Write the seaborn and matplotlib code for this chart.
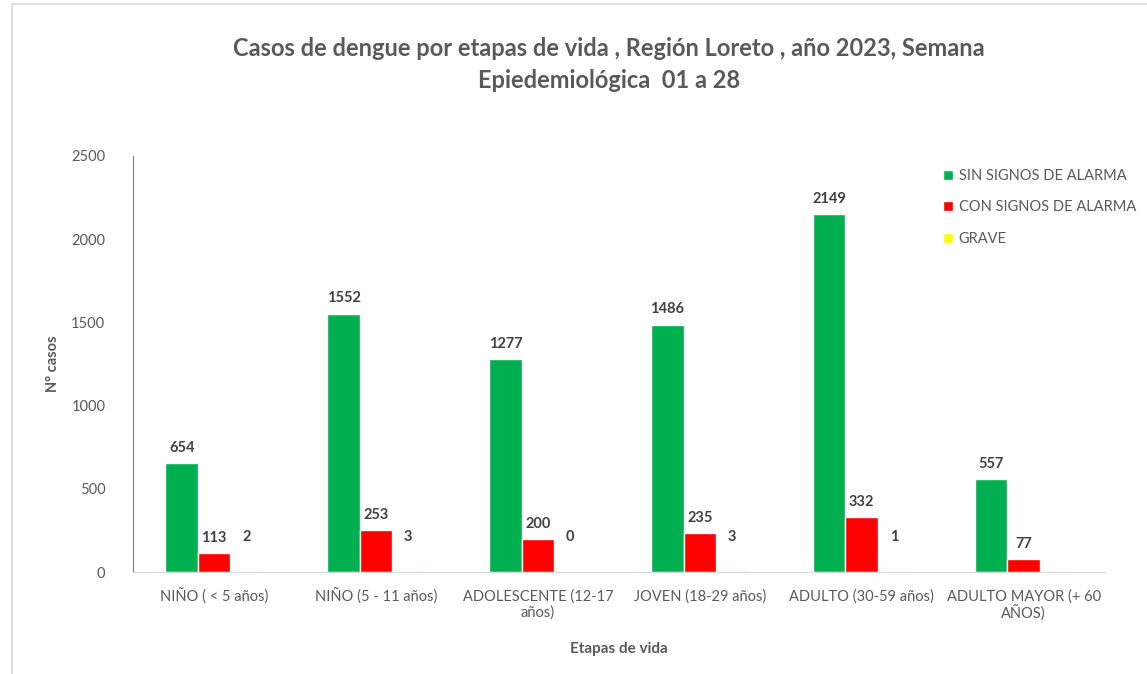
import pandas as pd
import seaborn as sns
import matplotlib.pyplot as plt
from matplotlib.patches import Rectangle

# data
etapas = ["NIÑO ( < 5 años)", "NIÑO (5 - 11 años)", "ADOLESCENTE (12-17\naños)",
          "JOVEN (18-29 años)", "ADULTO (30-59 años)", "ADULTO MAYOR (+ 60\nAÑOS)"]
tipos = ["SIN SIGNOS DE ALARMA", "CON SIGNOS DE ALARMA", "GRAVE"]
sin_signos = [654, 1552, 1277, 1486, 2149, 557]
con_signos = [113, 253, 200, 235, 332, 77]
grave = [2, 3, 0, 3, 1, 1]
grave_labels = ["2", "3", "0", "3", "1", ""]   # last label not shown in the original
colores = ["#00B050", "#FF0000", "#FFFF00"]

df = pd.DataFrame({
    "etapa": etapas * 3,
    "tipo": [t for t in tipos for _ in etapas],
    "casos": sin_signos + con_signos + grave,
})

sns.set_style("white")
plt.rcParams["font.family"] = ["Lato", "DejaVu Sans"]
gris = "#595959"

fig = plt.figure(figsize=(11.47, 6.74), dpi=100)
ax = fig.add_axes([0.116, 0.151, 0.847, 0.618])

sns.barplot(data=df, x="etapa", y="casos", hue="tipo", hue_order=tipos,
            palette=colores, width=0.6, saturation=1, ax=ax)

# tiny GRAVE bars still show as a thin yellow line
for bar, v in zip(ax.containers[2], grave):
    if v > 0:
        bar.set_edgecolor("#FFFF00")
        bar.set_linewidth(1)

# value labels
etiquetas = [[str(v) for v in sin_signos], [str(v) for v in con_signos], grave_labels]
for i, cont in enumerate(ax.containers):
    pad = 6 if i < 2 else 20
    ax.bar_label(cont, labels=etiquetas[i], padding=pad, fontsize=10.5,
                 fontweight="bold", color="#404040")

ax.set_ylim(0, 2500)
ax.set_xlim(-0.5, 5.5)
ax.set_yticks(range(0, 2501, 500))
ax.tick_params(axis="both", length=0, labelsize=10.5, labelcolor=gris)
ax.tick_params(axis="x", pad=12)
ax.tick_params(axis="y", pad=20)
for s in ["top", "right"]:
    ax.spines[s].set_visible(False)
ax.spines["left"].set_color("#808080")
ax.spines["bottom"].set_color("#D9D9D9")

ax.set_ylabel("N° casos", fontsize=10.5, fontweight="bold", color=gris, labelpad=8)
ax.set_xlabel("Etapas de vida", fontsize=11, fontweight="bold", color=gris, labelpad=14)

leg = ax.legend(loc="upper left", bbox_to_anchor=(0.82, 1.0), frameon=False,
                fontsize=10.5, labelspacing=1.2, handlelength=0.7, handleheight=0.7,
                handletextpad=0.4, labelcolor=gris)

fig.text(0.531, 0.904, "Casos de dengue por etapas de vida , Región Loreto , año 2023, Semana\n"
         "Epiedemiológica  01 a 28", ha="center", va="center", fontsize=17,
         fontweight="bold", color=gris, linespacing=1.45)

# light frame around the chart area
fig.patches.append(Rectangle((0.0105, -0.05), 1.1, 1.044, transform=fig.transFigure,
                             fill=False, edgecolor="#D9D9D9", linewidth=1.2))

fig.savefig("out.png", dpi=100)
